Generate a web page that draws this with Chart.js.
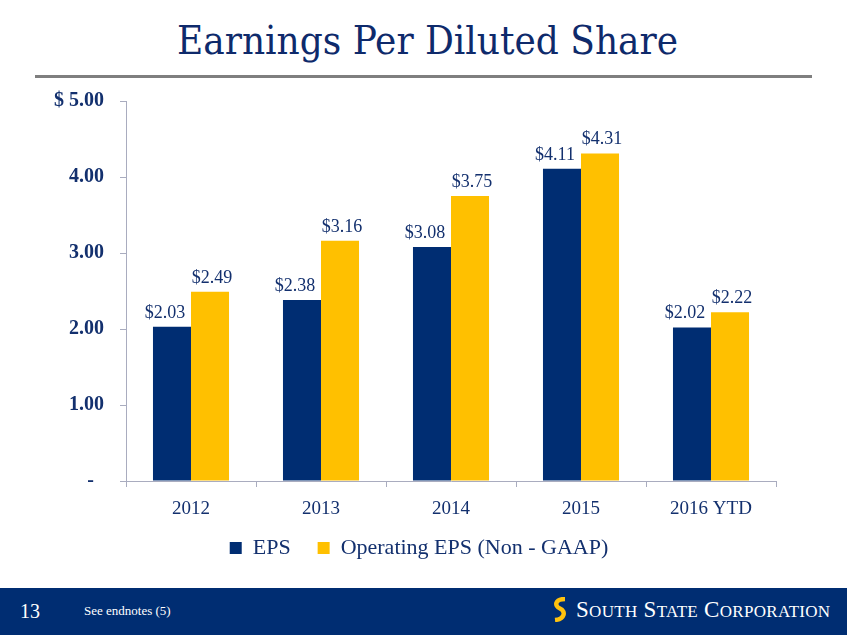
<!DOCTYPE html>
<html>
<head>
<meta charset="utf-8">
<script src="https://cdn.jsdelivr.net/npm/chart.js@4"></script>
<style>
  html, body { margin: 0; padding: 0; background: #fff; }
  #page { position: relative; width: 847px; height: 635px; overflow: hidden; }
  #title {
    position: absolute; left: 4px; top: 17px; width: 847px; text-align: center;
    font-family: "DejaVu Serif Condensed", "Liberation Serif", serif;
    font-size: 40px; color: #0e2a6b;
  }
  #rule { position: absolute; left: 35px; top: 75px; width: 777px; height: 3px; background: #7f7f7f; }
  #chartBox { position: absolute; left: 0; top: 0; width: 847px; height: 588px; }
  #footer { position: absolute; left: 0; top: 588px; width: 847px; height: 47px; background: #002d72; color: #fff; }
  #pageNo { position: absolute; left: 20px; top: 12px; font-family: "Liberation Serif", serif; font-size: 20px; }
  #note { position: absolute; left: 84px; top: 15px; font-family: "Liberation Serif", serif; font-size: 13px; }
  #logo { position: absolute; left: 552px; top: 9px; font-family: "Liberation Serif", serif; font-size: 23px; white-space: nowrap; letter-spacing: 0.3px; }
  #logo .sm { font-size: 17px; }
  #logo svg { vertical-align: -5px; margin-right: 8px; }
</style>
</head>
<body>
<div id="page">
  <div id="title">Earnings Per Diluted Share</div>
  <div id="rule"></div>
  <div id="chartBox"><canvas id="eps"></canvas></div>
  <div id="footer">
    <div id="pageNo">13</div>
    <div id="note">See endnotes (5)</div>
    <div id="logo">
      <svg width="16" height="25" viewBox="0 0 16 25"><path d="M13 2 C3 2 2 9 8 11.5 C14 14 13 22 3 23" stroke="#ffc20e" stroke-width="4.5" fill="none"/></svg>S<span class="sm">OUTH</span> S<span class="sm">TATE</span> C<span class="sm">ORPORATION</span>
    </div>
  </div>
</div>
<script>
// Data
const years       = ["2012", "2013", "2014", "2015", "2016 YTD"];
const epsValues   = [2.03, 2.38, 3.08, 4.11, 2.02];
const opEpsValues = [2.49, 3.16, 3.75, 4.31, 2.22];

const navy = "#002d72";
const gold = "#ffc000";
const textNavy = "#13306e";
const axisGray = "#a9acbf";

// Writes the "$x.xx" figure over each bar
// (on the slide the EPS figures sit a little left, the operating ones a little right)
const labelNudge = [-7, 2];
const barLabels = {
  id: "barLabels",
  afterDatasetsDraw(chart) {
    const ctx = chart.ctx;
    ctx.save();
    ctx.font = "18px 'Liberation Serif', serif";
    ctx.fillStyle = textNavy;
    ctx.textAlign = "center";
    ctx.textBaseline = "alphabetic";
    chart.data.datasets.forEach((ds, i) => {
      chart.getDatasetMeta(i).data.forEach((bar, j) => {
        ctx.fillText("$" + ds.data[j].toFixed(2), bar.x + labelNudge[i], bar.y - 9);
      });
    });
    ctx.restore();
  }
};

// The slide's legend sits a bit right of the plot centre, nudge its box
const legendShift = {
  id: "legendShift",
  afterLayout(chart) {
    if (chart.legend) chart.legend.left = 62;
  }
};

new Chart(document.getElementById("eps"), {
  type: "bar",
  data: {
    labels: years,
    datasets: [
      { label: "EPS", data: epsValues, backgroundColor: navy },
      { label: "Operating EPS (Non - GAAP)", data: opEpsValues, backgroundColor: gold }
    ]
  },
  options: {
    responsive: true,
    maintainAspectRatio: false,
    animation: false,
    datasets: { bar: { categoryPercentage: 0.585, barPercentage: 1.0 } },
    layout: { padding: { top: 101, right: 71, left: 0, bottom: 19 } },
    scales: {
      x: {
        grid: { display: true, drawOnChartArea: false, tickLength: 6, color: axisGray },
        border: { color: axisGray },
        ticks: { color: textNavy, padding: 11, font: { family: "'Liberation Serif', serif", size: 19 } },
        afterFit(scale) { scale.height = 40; }
      },
      y: {
        min: 0,
        max: 5,
        grid: { display: true, drawOnChartArea: false, tickLength: 6, color: axisGray },
        border: { color: axisGray },
        ticks: {
          stepSize: 1,
          padding: 16,
          color: textNavy,
          font: { family: "'Liberation Serif', serif", size: 20, weight: "bold" },
          callback: v => v === 0 ? "-  " : (v === 5 ? "$ 5.00" : v.toFixed(2))
        },
        afterFit(scale) { scale.width = 126; }
      }
    },
    plugins: {
      legend: {
        position: "bottom",
        labels: {
          boxWidth: 12,
          boxHeight: 12,
          padding: 16,
          color: textNavy,
          font: { family: "'Liberation Serif', serif", size: 22 },
          generateLabels(chart) {
            const items = Chart.defaults.plugins.legend.labels.generateLabels(chart);
            items[0].text += "  "; // wider gap between the two entries
            return items;
          }
        }
      },
      tooltip: { enabled: false }
    }
  },
  plugins: [barLabels, legendShift]
});
</script>
</body>
</html>
